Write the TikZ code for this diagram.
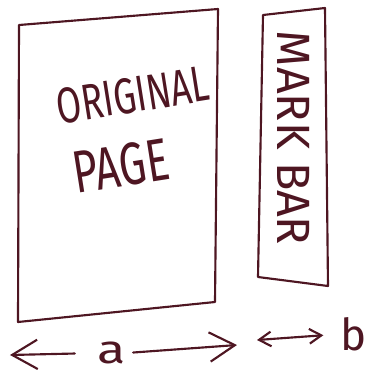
\documentclass[tikz,border=0pt]{standalone}
\usepackage{fontspec}
\setmainfont{Fira Sans}
\usetikzlibrary{arrows.meta}
\definecolor{inkred}{HTML}{4E1622}

\begin{document}
\begin{tikzpicture}[x=.75pt,y=-.75pt,
 ink/.style={draw=inkred,line width=1.6pt,line cap=round,line join=round},
 hand/.style={text=inkred,inner sep=0pt},
 ar/.style={ink,-{Straight Barb[length=19pt,width=22pt]}},
 dar/.style={ink,{Straight Barb[length=9pt,width=11pt]}-{Straight Barb[length=9pt,width=11pt]}}]
\useasboundingbox (0,0) rectangle (370,376);
% original page
\draw[ink] (19,25) -- (218,9) -- (215,302) -- (18,322) -- cycle;
\node[hand,font=\fontsize{27}{32}\selectfont,rotate=9,yscale=1.4] (orig) at (133,95) {ORIGINAL};
\node[hand,font=\fontsize{32}{34}\selectfont,rotate=9,yscale=1.4] (page) at (121,166) {PAGE};
% mark bar
\draw[ink] (263,15) -- (325,8) -- (328,286) -- (258,277) -- cycle;
\node[hand,font=\fontsize{35}{38}\selectfont,rotate=-90] (mark) at (294,138) {MARK BAR};
% widths
\node[hand,font=\fontsize{30}{32}\selectfont,xscale=1.3] (a) at (112,353) {a};
\node[hand,font=\fontsize{33}{36}\selectfont] (b) at (354,334) {b};
\coordinate (aleft) at (10,355);
\coordinate (aright) at (237,345);
\coordinate (bleft) at (257,340);
\draw[ar,shorten <=17pt] (a.west) -- (aleft);
\draw[ar,shorten <=5pt] (a.east) -- (aright);
\draw[dar,shorten >=13pt] (bleft) -- (b.west);
\end{tikzpicture}
\end{document}
